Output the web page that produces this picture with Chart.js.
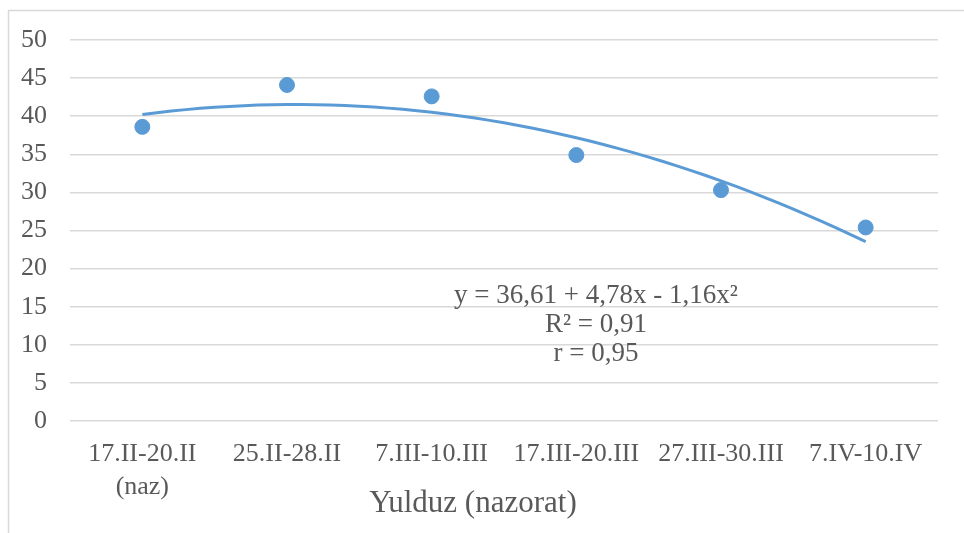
<!DOCTYPE html>
<html>
<head>
<meta charset="utf-8">
<script src="https://cdn.jsdelivr.net/npm/chart.js@4/dist/chart.umd.min.js"></script>
<style>
  html, body { margin: 0; padding: 0; background: #fff; }
</style>
</head>
<body>
<canvas id="chart" width="964" height="533"></canvas>
<script>
const periods = [['17.II-20.II', '(naz)'], '25.II-28.II', '7.III-10.III', '17.III-20.III', '27.III-30.III', '7.IV-10.IV'];
const counts = [38.6, 44.1, 42.6, 34.9, 30.3, 25.4];
const trendCoef = [36.61, 4.78, -1.16]; // a + b*x + c*x^2
const trendText = ['y = 36,61 + 4,78x - 1,16x²', 'R² = 0,91', 'r = 0,95'];
const xTitle = 'Yulduz (nazorat)';
const yTicks = [0, 5, 10, 15, 20, 25, 30, 35, 40, 45, 50];

const blue = '#5b9bd5';
const textGray = '#595959';
const serif = "'Liberation Serif', 'Times New Roman', serif";

const points = counts.map((v, i) => ({ x: i + 1, y: v }));
const trend = [];
for (let i = 0; i <= 50; i++) {
  const x = 1 + i / 10;
  trend.push({ x, y: trendCoef[0] + trendCoef[1] * x + trendCoef[2] * x * x });
}

// frame, fit equation and axis title (title sits centred on the whole frame, not the axis)
const extras = {
  id: 'extras',
  beforeDraw(chart) {
    const c = chart.ctx;
    c.save();
    c.strokeStyle = '#d9d9d9';
    c.lineWidth = 1.5;
    c.strokeRect(8.5, 10.5, 1000, 1000);
    c.restore();
  },
  afterDraw(chart) {
    const c = chart.ctx;
    c.save();
    c.fillStyle = textGray;
    c.textAlign = 'center';
    c.textBaseline = 'middle';
    c.font = '27px ' + serif;
    trendText.forEach((t, i) => c.fillText(t, 596, 296 + i * 29.2));
    c.font = '31px ' + serif;
    c.fillText(xTitle, 473, 504);
    c.restore();
  }
};

new Chart(document.getElementById('chart'), {
  type: 'scatter',
  data: {
    datasets: [
      {
        type: 'line',
        data: trend,
        borderColor: blue,
        borderWidth: 3,
        pointRadius: 0,
        tension: 0
      },
      {
        data: points,
        backgroundColor: blue,
        borderColor: blue,
        pointRadius: 7.5,
        pointHoverRadius: 7.5
      }
    ]
  },
  options: {
    responsive: false,
    animation: false,
    devicePixelRatio: 1,
    layout: { padding: { left: 0, top: 40, right: 26, bottom: 0 } },
    plugins: { legend: { display: false }, tooltip: { enabled: false } },
    scales: {
      x: {
        type: 'linear',
        min: 0.5,
        max: 6.5,
        afterBuildTicks(scale) {
          scale.ticks = periods.map((p, i) => ({ value: i + 1 }));
        },
        afterFit(scale) { scale.height = 112; },
        grid: { display: false },
        border: { display: false },
        ticks: {
          autoSkip: false,
          maxRotation: 0,
          padding: 9,
          color: textGray,
          font: { family: serif, size: 26, lineHeight: 1.27 },
          callback: (v) => periods[v - 1]
        }
      },
      y: {
        min: 0,
        max: 50,
        afterBuildTicks(scale) {
          scale.ticks = yTicks.map(v => ({ value: v }));
        },
        afterFit(scale) { scale.width = 70; },
        grid: { color: '#d9d9d9', lineWidth: 1.5, drawTicks: false },
        border: { display: false },
        ticks: {
          padding: 23,
          color: textGray,
          font: { family: serif, size: 26 }
        }
      }
    }
  },
  plugins: [extras]
});
</script>
</body>
</html>
